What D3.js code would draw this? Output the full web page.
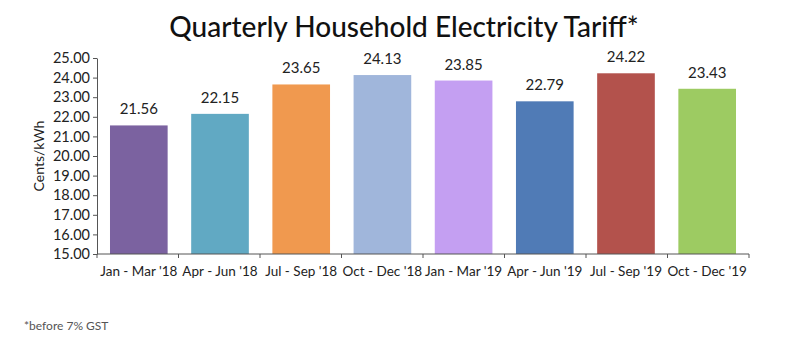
<!DOCTYPE html>
<html><head><meta charset="utf-8">
<script src="https://cdn.jsdelivr.net/npm/d3@7"></script>
<style>body{margin:0;background:#fff;}svg{display:block;}</style>
</head><body>
<script>
const categories = ["Jan - Mar '18","Apr - Jun '18","Jul - Sep '18","Oct - Dec '18","Jan - Mar '19","Apr - Jun '19","Jul - Sep '19","Oct - Dec '19"];
const values = [21.56,22.15,23.65,24.13,23.85,22.79,24.22,23.43];
const colors = ["#7b62a0","#61a9c3","#f0994f","#a0b6db","#c49ff2","#507bb6","#b3524c","#9dcb62"];
const yTicks = [15,16,17,18,19,20,21,22,23,24,25];
const title = "Quarterly Household Electricity Tariff*";
const yLabel = "Cents/kWh";
const footnote = "*before 7% GST";

const W=800,H=345;
const font = "Lato, 'Noto Sans', sans-serif";
const svg = d3.select("body").append("svg").attr("width",W).attr("height",H).style("font-family",font);
const m={left:97,right:51,top:58,bottom:91};
const x=d3.scaleBand().domain(categories).range([m.left,W-m.right]).paddingInner(0.29).paddingOuter(0.16);
const y=d3.scaleLinear().domain([15,25]).range([H-m.bottom,m.top]);

svg.append("text").attr("x",404).attr("y",37).attr("text-anchor","middle")
  .attr("font-size",28).attr("font-weight",500).attr("fill","#111").text(title);

svg.selectAll("rect.bar").data(values).join("rect").attr("class","bar")
  .attr("x",(d,i)=>x(categories[i])).attr("width",x.bandwidth())
  .attr("y",d=>y(d)).attr("height",d=>y(15)-y(d)).attr("fill",(d,i)=>colors[i]);

svg.selectAll("text.val").data(values).join("text").attr("class","val")
  .attr("x",(d,i)=>x(categories[i])+x.bandwidth()/2).attr("y",d=>y(d)-11)
  .attr("text-anchor","middle").attr("font-size",15).attr("fill","#222").text(d=>d.toFixed(2));

const yAxis=svg.append("g").attr("transform",`translate(${m.left},0)`)
  .call(d3.axisLeft(y).tickValues(yTicks).tickFormat(d3.format(".2f")).tickSize(4).tickSizeOuter(0));
yAxis.selectAll("text").attr("font-size",14.5).attr("fill","#222").attr("font-family",font);
yAxis.selectAll("line,path").attr("stroke","#555");

const xg=svg.append("g").attr("transform",`translate(0,${y(15)})`);
xg.append("line").attr("x1",m.left).attr("x2",W-m.right).attr("stroke","#555");
const step=(W-m.right-m.left)/categories.length;
xg.selectAll("line.t").data(d3.range(categories.length+1)).join("line").attr("class","t")
  .attr("x1",i=>m.left+i*step).attr("x2",i=>m.left+i*step).attr("y1",0).attr("y2",4).attr("stroke","#555");
xg.selectAll("text").data(categories).join("text")
  .attr("x",d=>x(d)+x.bandwidth()/2).attr("y",22).attr("text-anchor","middle")
  .attr("font-size",13.5).attr("fill","#222").text(d=>d);

svg.append("text").attr("transform",`translate(44,${(y(15)+y(25))/2}) rotate(-90)`)
  .attr("text-anchor","middle").attr("font-size",14).attr("fill","#222").text(yLabel);

svg.append("text").attr("x",24).attr("y",330).attr("font-size",12).attr("fill","#555").text(footnote);
</script>
</body></html>
